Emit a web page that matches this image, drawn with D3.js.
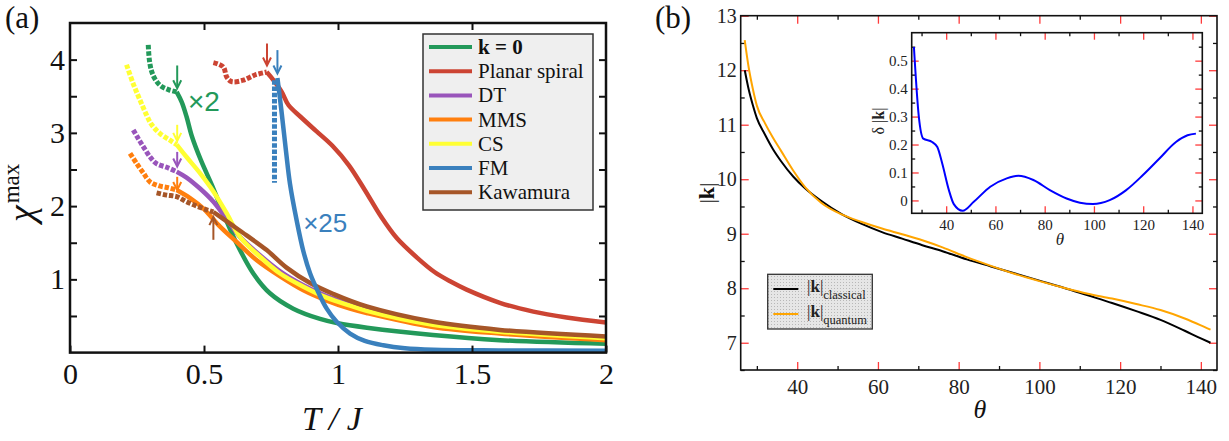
<!DOCTYPE html>
<html><head><meta charset="utf-8">
<script src="https://cdn.jsdelivr.net/npm/d3@7"></script>
<style>body{margin:0;background:#fff}svg{display:block}
.serif{font-family:"Liberation Serif","DejaVu Serif","Times New Roman",serif}
.sans{font-family:"Liberation Sans","DejaVu Sans",Arial,sans-serif}
</style>
</head><body>
<svg id="c" width="1229" height="441"></svg>
<script>
// ================= Panel (a) data =================
const seriesNames  = ["k = 0","Planar spiral","DT","MMS","CS","FM","Kawamura"];
const seriesColors = ["#23995a","#cc4433","#9955bb","#ff7f0e","#ffff33","#3a80bd","#a65628"];

const kzeroDash  = [[0.292,4.20],[0.296,4.00],[0.303,3.86],[0.315,3.75],[0.336,3.65],[0.367,3.59],[0.398,3.56]];
const kzeroSolid = [[0.398,3.56],[0.417,3.42],[0.435,3.22],[0.455,2.95],[0.488,2.63],[0.535,2.24],[0.578,1.85],[0.622,1.49],[0.684,1.08],[0.746,0.81],[0.833,0.60],[0.933,0.46],[1.0,0.40],[1.108,0.34],[1.354,0.24],[1.604,0.17],[2.0,0.12]];
const spiralDash  = [[0.535,3.96],[0.572,3.90],[0.585,3.76],[0.603,3.70],[0.647,3.72],[0.690,3.79],[0.734,3.83]];
const spiralSolid = [[0.734,3.83],[0.759,3.72],[0.790,3.56],[0.815,3.38],[0.86,3.22],[0.92,3.02],[0.98,2.82],[1.04,2.56],[1.10,2.22],[1.16,1.86],[1.22,1.56],[1.30,1.28],[1.36,1.10],[1.42,0.97],[1.48,0.86],[1.604,0.68],[1.729,0.56],[1.853,0.48],[2.0,0.41]];
const dtDash  = [[0.236,3.04],[0.255,2.92],[0.274,2.81],[0.299,2.67],[0.323,2.58],[0.361,2.53],[0.398,2.47]];
const dtSolid = [[0.398,2.47],[0.435,2.39],[0.485,2.24],[0.535,2.06],[0.585,1.82],[0.634,1.58],[0.709,1.33],[0.784,1.11],[0.871,0.92],[0.958,0.77],[1.045,0.66],[1.107,0.59],[1.354,0.40],[1.604,0.30],[2.0,0.205]];
const mmsDash  = [[0.224,2.72],[0.249,2.58],[0.274,2.45],[0.299,2.33],[0.329,2.28],[0.367,2.25],[0.398,2.22]];
const mmsSolid = [[0.398,2.22],[0.448,2.11],[0.497,1.97],[0.560,1.72],[0.622,1.51],[0.697,1.26],[0.784,1.04],[0.871,0.85],[0.958,0.71],[1.045,0.60],[1.107,0.54],[1.354,0.35],[1.604,0.26],[2.0,0.17]];
const csDash  = [[0.211,3.93],[0.236,3.67],[0.261,3.45],[0.286,3.24],[0.305,3.11],[0.336,2.99],[0.373,2.90],[0.398,2.84]];
const csSolid = [[0.398,2.84],[0.435,2.67],[0.485,2.45],[0.535,2.20],[0.585,1.90],[0.634,1.58],[0.709,1.31],[0.784,1.08],[0.871,0.90],[0.958,0.75],[1.045,0.64],[1.107,0.57],[1.354,0.38],[1.604,0.285],[2.0,0.195]];
const fmDash  = [[0.763,3.72],[0.763,2.32]];
const fmSolid = [[0.774,3.75],[0.789,3.30],[0.806,2.75],[0.821,2.30],[0.846,1.80],[0.871,1.38],[0.896,1.08],[0.927,0.82],[0.958,0.60],[0.995,0.42],[1.045,0.26],[1.10,0.16],[1.169,0.10],[1.25,0.06],[1.356,0.04],[1.6,0.03],[2.0,0.025]];
const kawDash  = [[0.323,2.18],[0.361,2.15],[0.398,2.13],[0.435,2.06],[0.473,2.00],[0.510,1.95],[0.535,1.92]];
const kawSolid = [[0.535,1.92],[0.597,1.76],[0.659,1.60],[0.734,1.40],[0.808,1.16],[0.896,0.95],[0.983,0.80],[1.107,0.63],[1.356,0.42],[1.604,0.31],[2.0,0.22]];

// transition arrows: T, tail chi, tip chi, series index
const arrowT     = [0.40, 0.40, 0.40, 0.40, 0.535, 0.735, 0.774];
const arrowTail  = [3.92, 3.11, 2.74, 2.40, 1.54, 4.22, 4.13];
const arrowTip   = [3.61, 2.89, 2.54, 2.22, 1.85, 3.92, 3.81];
const arrowSeries= [0, 4, 2, 3, 6, 1, 5];

const aXTicks = [0, 0.5, 1, 1.5, 2];
const aXTickLabels = ["0", "0.5", "1", "1.5", "2"];
const aYTicks = [0.5, 1, 1.5, 2, 2.5, 3, 3.5, 4];
const aYTickLabels = ["", "1", "", "2", "", "3", "", "4"];

// ================= Panel (b) data =================
const theta     = [27, 28, 29, 30, 32, 34, 36, 39, 42, 46, 51, 56, 61, 66, 71, 76, 82, 88, 94, 100, 106, 112, 118, 124, 130, 136, 140, 142.4];
const kClassical= [12.0, 11.64, 11.36, 11.12, 10.82, 10.55, 10.33, 10.05, 9.83, 9.60, 9.36, 9.18, 9.03, 8.91, 8.79, 8.68, 8.53, 8.40, 8.27, 8.14, 8.01, 7.87, 7.73, 7.58, 7.42, 7.22, 7.08, 7.00];
const kQuantum  = [12.55, 12.04, 11.66, 11.35, 11.03, 10.76, 10.52, 10.16, 9.85, 9.565, 9.355, 9.215, 9.095, 8.99, 8.88, 8.75, 8.57, 8.41, 8.26, 8.13, 8.01, 7.90, 7.81, 7.71, 7.60, 7.445, 7.32, 7.24];

const insetTheta = [26.9, 28.9, 30.7, 34.3, 36.4, 38.4, 41.1, 43.1, 46.7, 51.2, 57.9, 64.6, 69.3, 75.4, 82.1, 88.9, 94.3, 99.6, 106.4, 113.1, 119.8, 126.6, 133.3, 138.0, 141.4];
const insetDelta = [0.549, 0.299, 0.221, 0.209, 0.191, 0.132, 0.037, -0.013, -0.037, -0.005, 0.049, 0.079, 0.088, 0.073, 0.037, 0.007, -0.008, -0.013, 0.001, 0.037, 0.090, 0.150, 0.209, 0.233, 0.239];

const bXMajor = [40, 60, 80, 100, 120, 140];
const bXMinor = [30, 50, 70, 90, 110, 130];
const bYMajor = [7, 8, 9, 10, 11, 12, 13];
const bYMinor = [6.5, 7.5, 8.5, 9.5, 10.5, 11.5, 12.5];
const iXMajor = [40, 60, 80, 100, 120, 140];
const iXMinor = [30, 50, 70, 90, 110, 130];
const iYMajor = [0, 0.1, 0.2, 0.3, 0.4, 0.5];
const iYMajorLabels = ["0", "0.1", "0.2", "0.3", "0.4", "0.5"];
const iYMinor = [0.05, 0.15, 0.25, 0.35, 0.45, 0.55];

// ================= drawing =================
const svg = d3.select("#c");

// ---------- Panel (a) ----------
const ax = d3.scaleLinear().domain([0, 2]).range([70, 606]);
const ay = d3.scaleLinear().domain([0, 4.5]).range([352.6, 23]);
const gA = svg.append("g");
const lineA = d3.line().x(d => ax(d[0])).y(d => ay(d[1])).curve(d3.curveCatmullRom.alpha(0.5));

const dashSets  = [kzeroDash, spiralDash, dtDash, mmsDash, csDash, fmDash, kawDash];
const solidSets = [kzeroSolid, spiralSolid, dtSolid, mmsSolid, csSolid, fmSolid, kawSolid];
const drawOrder = [0, 1, 2, 3, 4, 6, 5];

drawOrder.forEach(i => {
  gA.append("path").attr("d", lineA(dashSets[i])).attr("fill", "none")
    .attr("stroke", seriesColors[i]).attr("stroke-width", 5)
    .attr("stroke-dasharray", "4.5,1.8").attr("stroke-linecap", "butt");
  gA.append("path").attr("d", lineA(solidSets[i])).attr("fill", "none")
    .attr("stroke", seriesColors[i]).attr("stroke-width", 4.5)
    .attr("stroke-linejoin", "round").attr("stroke-linecap", "butt");
});

// arrows
arrowT.forEach((t, j) => {
  const c = seriesColors[arrowSeries[j]];
  const x = ax(t), y0 = ay(arrowTail[j]), y1 = ay(arrowTip[j]);
  const dir = y1 > y0 ? 1 : -1;
  gA.append("line").attr("x1", x).attr("x2", x).attr("y1", y0).attr("y2", y1 - dir * 1)
    .attr("stroke", c).attr("stroke-width", 2);
  gA.append("path").attr("d", `M${x - 4},${y1 - dir * 8} L${x},${y1} L${x + 4},${y1 - dir * 8}`)
    .attr("fill", "none").attr("stroke", c).attr("stroke-width", 2);
});

// annotations
gA.append("text").attr("class", "sans").attr("x", ax(0.44)).attr("y", ay(3.295)).text("×2")
  .attr("font-size", 28).attr("fill", seriesColors[0]);
gA.append("text").attr("class", "sans").attr("x", ax(0.87)).attr("y", ay(1.65)).text("×25")
  .attr("font-size", 26).attr("fill", seriesColors[5]);

// axes
function styleAxis(g, size) {
  g.select(".domain").remove();
  g.attr("font-family", null);
  g.selectAll(".tick line").attr("stroke", "#111").attr("stroke-width", 2);
  g.selectAll(".tick text").attr("class", "serif").attr("font-size", size).attr("fill", "#111");
}
const aLeft = gA.append("g").attr("transform", `translate(${ax(0)},0)`)
  .call(d3.axisLeft(ay).tickValues(aYTicks).tickFormat((d, i) => aYTickLabels[i]).tickSizeInner(-7).tickSizeOuter(0).tickPadding(5));
styleAxis(aLeft, 30);
const aRight = gA.append("g").attr("transform", `translate(${ax(2)},0)`)
  .call(d3.axisRight(ay).tickValues(aYTicks).tickFormat("").tickSizeInner(-7).tickSizeOuter(0));
styleAxis(aRight, 30);
const aBottom = gA.append("g").attr("transform", `translate(0,${ay(0)})`)
  .call(d3.axisBottom(ax).tickValues(aXTicks).tickFormat((d, i) => aXTickLabels[i]).tickSizeInner(-7).tickSizeOuter(0).tickPadding(10));
styleAxis(aBottom, 30);
const aTop = gA.append("g").attr("transform", `translate(0,${ay(4.5)})`)
  .call(d3.axisTop(ax).tickValues(aXTicks.slice(1, 4)).tickFormat("").tickSizeInner(-7).tickSizeOuter(0));
styleAxis(aTop, 30);
gA.append("rect").attr("x", ax(0)).attr("y", ay(4.5)).attr("width", ax(2) - ax(0)).attr("height", ay(0) - ay(4.5))
  .attr("fill", "none").attr("stroke", "#111").attr("stroke-width", 2.5);

// legend (a)
const legA = gA.append("g");
legA.append("rect").attr("x", 423).attr("y", 34).attr("width", 170).attr("height", 176)
  .attr("fill", "#efefef").attr("stroke", "#333").attr("stroke-width", 1.5);
seriesNames.forEach((n, i) => {
  const cy = 47 + i * 24.2;
  legA.append("line").attr("x1", 429).attr("x2", 472).attr("y1", cy).attr("y2", cy)
    .attr("stroke", seriesColors[i]).attr("stroke-width", 4);
  legA.append("text").attr("class", "serif").attr("x", 478).attr("y", cy + 7).text(n)
    .attr("font-size", 21).attr("fill", "#111")
    .attr("font-weight", i === 0 ? "bold" : "normal");
});

// labels (a)
svg.append("text").attr("class", "serif").attr("x", 5).attr("y", 28).text("(a)").attr("font-size", 31).attr("fill", "#111");
const yl = svg.append("text").attr("class", "serif").attr("transform", "translate(34,222) rotate(-90)")
  .attr("fill", "#111");
yl.append("tspan").text("χ").attr("font-style", "italic").attr("font-size", 38);
yl.append("tspan").text("max").attr("font-size", 23).attr("dy", -15).attr("dx", 2);
svg.append("text").attr("class", "serif").attr("x", 332).attr("y", 430).attr("text-anchor", "middle")
  .attr("font-size", 34).attr("fill", "#111").attr("font-style", "italic")
  .text("T / J");

// ---------- Panel (b) ----------
const bx = d3.scaleLinear().domain([26, 144]).range([740.7, 1217]);
const by = d3.scaleLinear().domain([6.5, 13]).range([370, 15.7]);
const gB = svg.append("g");
const RED = "#ff3b3b";

function ticksB(g, axisFn, scale, vals, size, color, fmt, pad, fontSize, tr) {
  const a = g.append("g").attr("transform", tr)
    .call(axisFn(scale).tickValues(vals).tickFormat(fmt).tickSizeInner(-size).tickSizeOuter(0).tickPadding(pad));
  a.select(".domain").remove();
  a.attr("font-family", null);
  a.selectAll(".tick line").attr("stroke", color).attr("stroke-width", 1.3);
  a.selectAll(".tick text").attr("class", "serif").attr("font-size", fontSize).attr("fill", "#222");
  return a;
}
const L = bx(26), R = bx(144), T = by(13), B = by(6.5);
ticksB(gB, d3.axisBottom, bx, bXMinor, 4, "#111", "", 0, 20, `translate(0,${B})`);
ticksB(gB, d3.axisBottom, bx, bXMajor, 8, RED, d3.format("d"), 9, 21, `translate(0,${B})`);
ticksB(gB, d3.axisTop, bx, bXMinor, 4, "#111", "", 0, 20, `translate(0,${T})`);
ticksB(gB, d3.axisTop, bx, bXMajor, 8, RED, "", 0, 20, `translate(0,${T})`);
ticksB(gB, d3.axisLeft, by, bYMinor, 4, "#111", "", 0, 20, `translate(${L},0)`);
ticksB(gB, d3.axisLeft, by, bYMajor, 8, RED, d3.format("d"), 4, 20, `translate(${L},0)`);
ticksB(gB, d3.axisRight, by, bYMinor, 4, "#111", "", 0, 20, `translate(${R},0)`);
ticksB(gB, d3.axisRight, by, bYMajor, 8, RED, "", 0, 20, `translate(${R},0)`);

const lineB = d3.line().x(d => bx(d[0])).y(d => by(d[1])).curve(d3.curveMonotoneX);
gB.append("path").attr("d", lineB(theta.map((t, i) => [t, kClassical[i]]))).attr("fill", "none")
  .attr("stroke", "#000").attr("stroke-width", 2);
gB.append("path").attr("d", lineB(theta.map((t, i) => [t, kQuantum[i]]))).attr("fill", "none")
  .attr("stroke", "#ffa500").attr("stroke-width", 2);

gB.append("rect").attr("x", L).attr("y", T).attr("width", R - L).attr("height", B - T)
  .attr("fill", "none").attr("stroke", "#111").attr("stroke-width", 1.6);

// inset
const ix = d3.scaleLinear().domain([26, 144]).range([911.7, 1202.3]);
const iy = d3.scaleLinear().domain([-0.046, 0.6]).range([213.3, 32.7]);
const gI = svg.append("g");
const iL = ix(26), iR = ix(144), iT = iy(0.6), iB = iy(-0.046);
gI.append("rect").attr("x", iL).attr("y", iT).attr("width", iR - iL).attr("height", iB - iT).attr("fill", "#fff");
ticksB(gI, d3.axisBottom, ix, iXMinor, 3.5, "#111", "", 0, 15, `translate(0,${iB})`);
ticksB(gI, d3.axisBottom, ix, iXMajor, 7, RED, d3.format("d"), 6, 15, `translate(0,${iB})`);
ticksB(gI, d3.axisTop, ix, iXMinor, 3.5, "#111", "", 0, 15, `translate(0,${iT})`);
ticksB(gI, d3.axisTop, ix, iXMajor, 7, RED, "", 0, 15, `translate(0,${iT})`);
ticksB(gI, d3.axisLeft, iy, iYMinor, 3.5, "#111", "", 0, 15, `translate(${iL},0)`);
ticksB(gI, d3.axisLeft, iy, iYMajor, 7, RED, (d, i) => iYMajorLabels[i], 4, 15, `translate(${iL},0)`);
ticksB(gI, d3.axisRight, iy, iYMinor, 3.5, "#111", "", 0, 15, `translate(${iR},0)`);
ticksB(gI, d3.axisRight, iy, iYMajor, 7, RED, "", 0, 15, `translate(${iR},0)`);
const lineI = d3.line().x(d => ix(d[0])).y(d => iy(d[1])).curve(d3.curveMonotoneX);
gI.append("path").attr("d", lineI(insetTheta.map((t, i) => [t, insetDelta[i]]))).attr("fill", "none")
  .attr("stroke", "#0000ff").attr("stroke-width", 2);
gI.append("rect").attr("x", iL).attr("y", iT).attr("width", iR - iL).attr("height", iB - iT)
  .attr("fill", "none").attr("stroke", "#111").attr("stroke-width", 1.6);
gI.append("text").attr("class", "serif").attr("x", 1060).attr("y", 245).attr("text-anchor", "middle").text("θ")
  .attr("font-style", "italic").attr("font-size", 17).attr("fill", "#222");
const iyl = gI.append("text").attr("class", "serif").attr("transform", "translate(884,121) rotate(-90)").attr("text-anchor", "middle")
  .attr("font-size", 16).attr("fill", "#222");
iyl.append("tspan").text("δ |");
iyl.append("tspan").text("k").attr("font-weight", "bold");
iyl.append("tspan").text("|");

// legend (b)
const defs = svg.append("defs");
const pat = defs.append("pattern").attr("id", "stip").attr("width", 3).attr("height", 3).attr("patternUnits", "userSpaceOnUse");
pat.append("rect").attr("width", 3).attr("height", 3).attr("fill", "#e6e6e6");
pat.append("rect").attr("width", 1).attr("height", 1).attr("fill", "#b8b8b8");
const legB = gB.append("g");
legB.append("rect").attr("x", 767.7).attr("y", 274.3).attr("width", 104.6).attr("height", 54.7)
  .attr("fill", "url(#stip)").attr("stroke", "#333").attr("stroke-width", 1.3);
const legBNames = ["classical", "quantum"];
const legBColors = ["#000", "#ffa500"];
legBNames.forEach((n, i) => {
  const cy = 289 + i * 25;
  legB.append("line").attr("x1", 773.3).attr("x2", 798.3).attr("y1", cy).attr("y2", cy)
    .attr("stroke", legBColors[i]).attr("stroke-width", 2);
  const t = legB.append("text").attr("class", "serif").attr("x", 807).attr("y", cy + 3)
    .attr("font-size", 17).attr("fill", "#222");
  t.append("tspan").text("|");
  t.append("tspan").text("k").attr("font-weight", "bold");
  t.append("tspan").text("|");
  t.append("tspan").text(n).attr("font-size", 12.5).attr("dy", 6.5);
});

// labels (b)
svg.append("text").attr("class", "serif").attr("x", 655).attr("y", 28).text("(b)").attr("font-size", 31).attr("fill", "#111");
const byl = svg.append("text").attr("class", "serif").attr("transform", "translate(714,193) rotate(-90)").attr("text-anchor", "middle")
  .attr("font-size", 22).attr("fill", "#111");
byl.append("tspan").text("|");
byl.append("tspan").text("k").attr("font-weight", "bold");
byl.append("tspan").text("|");
svg.append("text").attr("class", "serif").attr("x", 980).attr("y", 418).attr("text-anchor", "middle").text("θ")
  .attr("font-style", "italic").attr("font-size", 26).attr("fill", "#111");
</script>
</body></html>
